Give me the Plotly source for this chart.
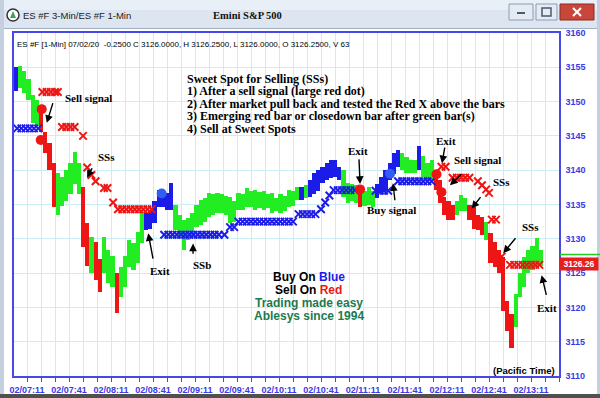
import plotly.graph_objects as go

# ---------------- data (minutes after 07:00, prices) ----------------
bar_t = list(range(3, 379, 3))
bar_high = [3155.0, 3155.2, 3154.5, 3153.3, 3151.0, 3150.2, 3148.5, 3145.5, 3144.0, 3141.0,
            3139.6, 3139.0, 3140.0, 3141.0, 3142.6, 3141.0, 3137.5, 3132.3, 3130.3, 3129.5,
            3127.0, 3130.3, 3128.4, 3127.5, 3125.0, 3125.9, 3127.5, 3129.8, 3129.4, 3131.0,
            3133.8, 3133.8, 3134.0, 3135.5, 3137.1, 3137.0, 3136.7, 3138.1, 3135.0, 3133.5,
            3132.7, 3133.0, 3133.8, 3135.0, 3135.7, 3136.0, 3136.7, 3136.5, 3136.7, 3136.5,
            3136.2, 3136.1, 3135.5, 3136.7, 3136.5, 3137.4, 3137.0, 3137.1, 3136.8, 3137.0,
            3136.5, 3136.7, 3136.0, 3136.5, 3136.3, 3137.1, 3137.0, 3137.6, 3137.6, 3137.8,
            3138.5, 3139.6, 3140.0, 3140.5, 3141.0, 3141.5, 3141.5, 3140.5, 3140.0, 3138.1,
            3138.0, 3137.8, 3137.6, 3137.0, 3137.5, 3137.0, 3138.0, 3139.0, 3140.0, 3141.0,
            3142.5, 3142.9, 3142.5, 3141.9, 3141.5, 3141.5, 3143.5, 3142.0, 3141.0, 3141.5,
            3140.0, 3138.6, 3136.1, 3135.5, 3135.0, 3135.5, 3136.4, 3136.0, 3135.0, 3134.6,
            3133.5, 3133.2, 3132.5, 3130.8, 3129.5, 3128.4, 3127.3, 3121.0, 3119.0, 3122.0,
            3125.0, 3127.3, 3128.4, 3129.0, 3130.1, 3128.4]
bar_low = [3151.5, 3152.0, 3151.3, 3150.2, 3146.9, 3146.5, 3145.5, 3142.5, 3140.0, 3134.6,
           3133.5, 3134.8, 3135.5, 3136.5, 3138.0, 3136.5, 3128.8, 3126.0, 3125.0, 3124.0,
           3122.2, 3125.0, 3123.5, 3123.0, 3119.2, 3121.5, 3123.0, 3125.9, 3125.5, 3126.5,
           3129.4, 3131.3, 3131.5, 3132.3, 3134.6, 3134.6, 3134.2, 3134.2, 3131.3, 3130.5,
           3128.4, 3129.8, 3130.3, 3131.7, 3132.0, 3132.5, 3133.2, 3133.5, 3133.8, 3133.8,
           3133.5, 3132.3, 3132.5, 3134.2, 3134.2, 3134.6, 3134.6, 3134.2, 3134.5, 3134.2,
           3134.5, 3133.8, 3134.0, 3133.8, 3134.0, 3134.6, 3134.8, 3135.7, 3135.7, 3135.9,
           3136.1, 3136.5, 3137.0, 3138.1, 3138.5, 3138.8, 3139.0, 3138.6, 3136.1, 3135.2,
           3135.5, 3135.2, 3134.6, 3134.8, 3135.0, 3134.6, 3136.0, 3136.7, 3137.0, 3138.6,
           3139.5, 3140.5, 3140.0, 3139.6, 3139.6, 3139.6, 3140.0, 3139.0, 3138.6, 3138.5,
           3137.1, 3135.2, 3133.5, 3132.7, 3132.8, 3133.5, 3134.0, 3134.0, 3132.8, 3131.5,
           3131.3, 3130.5, 3129.8, 3126.5, 3125.9, 3125.0, 3119.5, 3116.5, 3114.1, 3117.1,
           3121.5, 3123.0, 3125.0, 3125.5, 3125.9, 3126.0]
# bar colour code per bar: G = green, R = red, B = blue (10 per row, like the price rows)
bar_side = list("BGGGGGRRRR"
                "GGGGGGRRGR"
                "RGGGRGGGGG"
                "GBBBBBBBGG"
                "GGGGGGGGGG"
                "GGGGGGGGGG"
                "GGGGGGGGBG"
                "BBBBBBBBGG"
                "GGRGGGBBBB"
                "BBGGGGBGGG"
                "RRRRRGGGRR"
                "RRGRRRRRRG"
                "GGGGGG")

sell_stop_t = [22, 25, 28, 31, 33, 36, 39, 42, 45, 51, 54, 57, 60, 66, 68.5, 72.5,
               76, 79, 82, 85, 88, 91, 94, 97, 100, 307, 310, 315, 318, 321, 324, 327,
               333, 336, 339, 341, 343, 346, 350, 356, 359, 362, 365, 368, 371, 374, 377]
sell_stop_v = [3151.4, 3151.4, 3151.4, 3151.4, 3151.4, 3146.3, 3146.3, 3146.3, 3146.3, 3145.0,
               3140.4, 3139.3, 3138.4, 3137.4, 3137.4, 3135.3,
               3134.3, 3134.3, 3134.3, 3134.3, 3134.3, 3134.3, 3134.3, 3134.3, 3134.3,
               3140.5, 3140.5, 3138.9, 3138.9, 3138.9, 3138.9, 3138.9,
               3138.4, 3137.8, 3137.2, 3136.7, 3132.8, 3132.8, 3127.4,
               3126.2, 3126.2, 3126.2, 3126.2, 3126.2, 3126.2, 3126.2, 3126.2]

buy_stop_t = [4, 7, 10, 13, 16, 19,
              109, 112, 115, 118, 121, 124, 127, 130, 133, 136, 139, 142, 145, 148, 152,
              156, 159, 162, 165, 168, 171, 174, 177, 180, 183, 186, 189, 192, 195, 198, 201,
              205, 208, 211, 214, 217, 221, 224, 227, 230, 233, 236, 239, 242, 245,
              260, 263, 266, 269, 276, 279, 282, 285, 288, 291, 294, 297, 300]
buy_stop_v = [3146.1] * 6 + [3130.6] * 15 + [3131.7] * 2 + [3132.5] * 14 + \
             [3133.6] * 5 + [3134.3, 3135.3, 3136.3] + [3137.1] * 6 + [3137.0] * 4 + [3138.4] * 9

sell_dot_t = [21.5, 20.8, 248.9, 303.5, 307.0]
sell_dot_v = [3148.9, 3144.4, 3137.2, 3139.4, 3136.8]
buy_dot_t = [107.2, 270.3]
buy_dot_v = [3136.6, 3139.5]

x_tick_vals = [11, 41, 71, 101, 131, 161, 191, 221, 251, 281, 311, 341, 371]
x_tick_text = ["02/07:11", "02/07:41", "02/08:11", "02/08:41", "02/09:11", "02/09:41",
               "02/10:11", "02/10:41", "02/11:11", "02/11:41", "02/12:11", "02/12:41", "02/13:11"]
y_tick_vals = [3110, 3115, 3120, 3125, 3130, 3135, 3140, 3145, 3150, 3155, 3160]

last_price = 3126.26

# labels: (text, text_t, text_v, tail_t, tail_v, head_t, head_v)
callouts = [
    ("Sell signal", 54.6, 3150.5, 29.8, 3150.0, 25.1, 3146.9),
    ("SSs", 68.1, 3141.9, 58.1, 3140.5, 53.9, 3138.9),
    ("Exit", 106.0, 3125.3, 101.2, 3126.9, 97.6, 3130.8),
    ("SSb", 136.0, 3126.2, 129.6, 3127.6, 129.6, 3129.3),
    ("Exit", 247.4, 3142.8, 248.1, 3141.8, 248.9, 3138.0),
    ("Buy signal", 271.7, 3134.2, 273.9, 3135.4, 272.4, 3138.1),
    ("Exit", 310.3, 3144.3, 309.6, 3143.5, 307.4, 3141.0),
    ("Sell signal", 333.1, 3141.5, 322.4, 3139.6, 313.1, 3137.8),
    ("SSs", 349.6, 3138.3, 335.8, 3136.3, 328.6, 3134.4),
    ("SSs", 370.3, 3131.7, 360.8, 3130.3, 351.2, 3127.9),
    ("Exit", 382.4, 3119.9, 382.2, 3121.6, 378.6, 3124.7),
]

notes = ["Sweet Spot for Selling (SSs)",
         "1) After a sell signal (large red dot)",
         "2) After market pull back and tested the Red X above the bars",
         "3) Emerging red bar or closedown bar after green bar(s)",
         "4) Sell at Sweet Spots"]

# ---------------- styling ----------------
GREEN = "#22ec22"
RED = "#ee1515"
BLUE = "#1c1ce8"
AXIS = "#4848e8"
TICK = "#3a3ae6"
GRID = "#c9eef6"
color_map = {"G": GREEN, "R": RED, "B": BLUE}

L, R, T, B = 14, 559, 33, 376
W, H = 600, 398


def px(x):
    return (x - L) / (R - L)


def py(y):
    return (B - y) / (B - T)


fig = go.Figure()

fig.add_trace(go.Bar(
    x=bar_t, y=[h - l for h, l in zip(bar_high, bar_low)], base=bar_low,
    width=3.0, marker=dict(color=[color_map[c] for c in bar_side], line=dict(width=0)),
    showlegend=False, hoverinfo="skip"))

fig.add_trace(go.Scatter(
    x=buy_stop_t, y=buy_stop_v, mode="markers",
    marker=dict(symbol="x-thin", size=7.5, line=dict(color=BLUE, width=2)),
    showlegend=False, hoverinfo="skip"))
fig.add_trace(go.Scatter(
    x=sell_stop_t, y=sell_stop_v, mode="markers",
    marker=dict(symbol="x-thin", size=7.5, line=dict(color=RED, width=2)),
    showlegend=False, hoverinfo="skip"))
fig.add_trace(go.Scatter(
    x=sell_dot_t, y=sell_dot_v, mode="markers",
    marker=dict(symbol="circle", size=10, color=RED),
    showlegend=False, hoverinfo="skip"))
fig.add_trace(go.Scatter(
    x=buy_dot_t, y=buy_dot_v, mode="markers",
    marker=dict(symbol="circle", size=10, color="#2f5ff0"),
    showlegend=False, hoverinfo="skip"))

annotations = []
SERIF = "Liberation Serif, Times New Roman, serif"
SANS = "Liberation Sans, Arial, sans-serif"
for text, tt, tv, at, av, ht, hv in callouts:
    annotations.append(dict(x=tt, y=tv, xref="x", yref="y", text="<b>%s</b>" % text,
                            showarrow=False, font=dict(family=SERIF, size=11, color="black"),
                            xanchor="center", yanchor="middle"))
    annotations.append(dict(x=ht, y=hv, ax=at, ay=av, xref="x", yref="y", axref="x", ayref="y",
                            text="", showarrow=True, arrowhead=2, arrowsize=1.1,
                            arrowwidth=1.4, arrowcolor="black", standoff=0, startstandoff=0))

note_y = [78.5, 91, 103.5, 116, 128.5]
for txt, yy in zip(notes, note_y):
    annotations.append(dict(x=px(185), y=py(yy), xref="paper", yref="paper",
                            text="<b>%s</b>" % txt, showarrow=False, xanchor="left", yanchor="middle",
                            font=dict(family=SERIF, size=12, color="black")))

promo = [("<b>Buy On <span style='color:#1c1ce8'>Blue</span></b>", 276.5, "black"),
         ("<b>Sell On <span style='color:#ee1515'>Red</span></b>", 289.5, "black"),
         ("<b>Trading made easy</b>", 302.8, "#1b7a50"),
         ("<b>Ablesys since 1994</b>", 316.3, "#1b7a50")]
for txt, yy, col in promo:
    annotations.append(dict(x=px(308.5), y=py(yy), xref="paper", yref="paper", text=txt,
                            showarrow=False, xanchor="center", yanchor="middle",
                            font=dict(family=SANS, size=12, color=col)))

annotations.append(dict(x=px(15), y=py(45), xref="paper", yref="paper",
                        text="ES #F [1-Min] 07/02/20  -0.2500 C 3126.0000, H 3126.2500, L 3126.0000, O 3126.2500, V 63",
                        showarrow=False, xanchor="left", yanchor="middle",
                        font=dict(family=SANS, size=8, color="black")))
annotations.append(dict(x=px(557), y=py(370), xref="paper", yref="paper", text="<b>(Pacific Time)</b>",
                        showarrow=False, xanchor="right", yanchor="middle",
                        font=dict(family=SANS, size=9.5, color="black")))
# title bar texts
annotations.append(dict(x=px(21), y=py(15), xref="paper", yref="paper", text="ES #F 3-Min/ES #F 1-Min",
                        showarrow=False, xanchor="left", yanchor="middle",
                        font=dict(family=SANS, size=9.5, color="#222222")))
annotations.append(dict(x=px(247), y=py(15), xref="paper", yref="paper", text="<b>Emini S&P 500</b>",
                        showarrow=False, xanchor="center", yanchor="middle",
                        font=dict(family=SERIF, size=10.5, color="#111111")))
# last price box
annotations.append(dict(x=px(579), y=last_price, xref="paper", yref="y", text="<b>%.2f</b>" % last_price,
                        showarrow=False, xanchor="center", yanchor="middle", bgcolor="#e61e1e",
                        borderpad=1, width=36, font=dict(family=SANS, size=8.5, color="white")))

shapes = [
    # title bar
    dict(type="rect", xref="paper", yref="paper", x0=px(0), x1=px(600), y0=py(0), y1=py(28),
         fillcolor="#dde6f0", line=dict(width=0), layer="below"),
    dict(type="rect", xref="paper", yref="paper", x0=px(0), x1=px(600), y0=py(0), y1=py(10),
         fillcolor="#e9eff6", line=dict(width=0), layer="below"),
    # side / bottom frames
    dict(type="rect", xref="paper", yref="paper", x0=px(0), x1=px(4), y0=py(0), y1=py(398),
         fillcolor="#c4d0df", line=dict(width=0), layer="below"),
    dict(type="rect", xref="paper", yref="paper", x0=px(597), x1=px(600), y0=py(0), y1=py(398),
         fillcolor="#c4d0df", line=dict(width=0), layer="below"),
    dict(type="rect", xref="paper", yref="paper", x0=px(0), x1=px(600), y0=py(394), y1=py(398),
         fillcolor="#505050", line=dict(width=0), layer="below"),
    dict(type="line", xref="paper", yref="paper", x0=px(4), x1=px(597), y0=py(28.5), y1=py(28.5),
         line=dict(color="#9fb0c6", width=1)),
    # window buttons
    dict(type="rect", xref="paper", yref="paper", x0=px(509), x1=px(533), y0=py(4), y1=py(20),
         fillcolor="#e4ebf3", line=dict(color="#8c9db5", width=1)),
    dict(type="rect", xref="paper", yref="paper", x0=px(536), x1=px(557), y0=py(4), y1=py(20),
         fillcolor="#e4ebf3", line=dict(color="#8c9db5", width=1)),
    dict(type="rect", xref="paper", yref="paper", x0=px(560), x1=px(594), y0=py(4), y1=py(20),
         fillcolor="#c9473a", line=dict(color="#8a2a22", width=1)),
    dict(type="line", xref="paper", yref="paper", x0=px(517), x1=px(525), y0=py(13), y1=py(13),
         line=dict(color="#4a5a70", width=2)),
    dict(type="rect", xref="paper", yref="paper", x0=px(542), x1=px(551), y0=py(8), y1=py(16),
         line=dict(color="#4a5a70", width=1.5)),
    dict(type="line", xref="paper", yref="paper", x0=px(573), x1=px(581), y0=py(8), y1=py(16),
         line=dict(color="white", width=2)),
    dict(type="line", xref="paper", yref="paper", x0=px(573), x1=px(581), y0=py(16), y1=py(8),
         line=dict(color="white", width=2)),
    # app icon
    dict(type="circle", xref="paper", yref="paper", x0=px(7), x1=px(19), y0=py(9), y1=py(21),
         fillcolor="#ffffff", line=dict(color="#333333", width=1.5)),
    dict(type="path", xref="paper", yref="paper",
         path="M %f %f L %f %f L %f %f Z" % (px(13), py(11), px(10), py(18), px(16), py(18)),
         fillcolor="#3aa35a", line=dict(width=0)),
    # green line above last price box
    dict(type="line", xref="paper", yref="paper", x0=px(560), x1=px(600), y0=py(254.5), y1=py(254.5),
         line=dict(color="#22cc22", width=1.5)),
]

fig.update_layout(
    width=W, height=H,
    margin=dict(l=L, r=W - R, t=T, b=H - B, autoexpand=False),
    paper_bgcolor="white", plot_bgcolor="white",
    barmode="overlay", bargap=0,
    showlegend=False,
    annotations=annotations, shapes=shapes,
    xaxis=dict(range=[1.71, 391], tickmode="array", tickvals=x_tick_vals, ticktext=x_tick_text,
               ticks="outside", ticklen=4, tickcolor=AXIS, tickwidth=1,
               showline=True, linecolor=AXIS, linewidth=1.5, mirror=True,
               showgrid=True, gridcolor=GRID, gridwidth=1, zeroline=False, automargin=False,
               minor=dict(tickmode="linear", tick0=1, dtick=10, showgrid=True, gridcolor=GRID,
                          ticks="outside", ticklen=4, tickcolor=AXIS),
               tickfont=dict(family=SANS, size=9, color=TICK, weight="bold"),
               ticklabelstandoff=0, fixedrange=True),
    yaxis=dict(range=[3110, 3160], side="right", tickmode="array", tickvals=y_tick_vals,
               ticks="", showline=True, linecolor=AXIS, linewidth=1.5, mirror=True,
               showgrid=True, gridcolor=GRID, gridwidth=1, zeroline=False, automargin=False,
               tickfont=dict(family=SANS, size=9, color=TICK, weight="bold"),
               ticklabelstandoff=3, fixedrange=True),
)

fig.write_html("out.html", config={"displayModeBar": False},
               post_script="document.body.style.margin='0';document.body.style.overflow='hidden';")
